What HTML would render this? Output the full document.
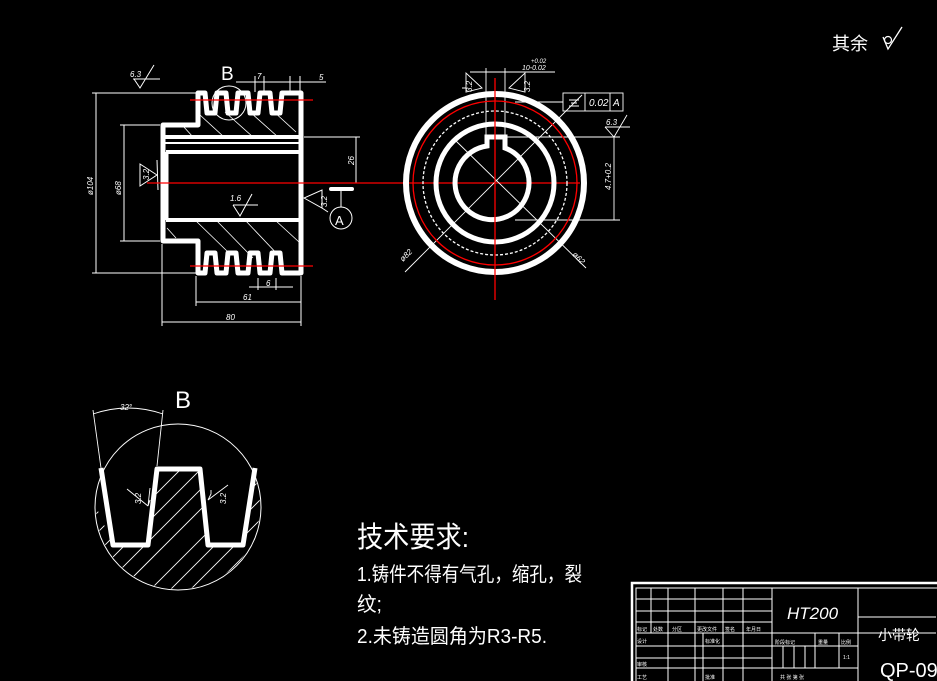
<!DOCTYPE html>
<html><head><meta charset="utf-8"><style>
html,body{margin:0;padding:0;background:#000;}
svg{display:block;}
text{font-family:"Liberation Sans","Noto Sans CJK SC",sans-serif;fill:#fff;}
</style></head><body>
<svg width="937" height="681" viewBox="0 0 937 681" xmlns="http://www.w3.org/2000/svg">
<rect width="937" height="681" fill="#000"/>

<text x="832" y="50" font-size="18" font-family="Noto Sans CJK SC, sans-serif">其余</text>
<path d="M883,37 L888,49 L902,27" stroke="#fff" stroke-width="1.3" fill="none"/>
<circle cx="888" cy="40" r="3.5" stroke="#fff" stroke-width="1.2" fill="none"/>

<g stroke="#fff" fill="none">
 <g stroke-width="0.8">
  <line x1="200" y1="115" x2="224" y2="137"/>
  <line x1="225" y1="112" x2="253" y2="137"/>
  <line x1="250" y1="112" x2="278" y2="137"/>
  <line x1="272" y1="110" x2="296" y2="132"/>
  <line x1="183" y1="126" x2="193" y2="137"/>
  <line x1="167" y1="228" x2="176" y2="238"/>
  <line x1="195" y1="220" x2="228" y2="252"/>
  <line x1="216" y1="220" x2="253" y2="258"/>
  <line x1="245" y1="220" x2="281" y2="258"/>
  <line x1="275" y1="220" x2="299" y2="242"/>
 </g>
 <path stroke-width="5" stroke-linejoin="round" d="M163,241 L163,125 L198,125 L198,93 L205,93 L207,113 L215,113 L217,93 L226,93 L228,113 L236,113 L238,93 L248,93 L250,113 L258,113 L260,93 L270,93 L272,113 L280,113 L282,93 L301,93 L301,273 L282,273 L280,253 L272,253 L270,273 L260,273 L258,253 L250,253 L248,273 L238,273 L236,253 L228,253 L226,273 L217,273 L215,253 L207,253 L205,273 L198,273 L198,241 Z"/>
 <line x1="163" y1="137" x2="301" y2="137" stroke-width="4"/>
 <line x1="163" y1="143" x2="301" y2="143" stroke-width="2"/>
 <line x1="166" y1="152" x2="301" y2="152" stroke-width="4"/>
 <line x1="166" y1="220" x2="301" y2="220" stroke-width="4"/>
 <line x1="167" y1="152" x2="167" y2="220" stroke-width="3"/>
 <circle cx="229" cy="103" r="17" stroke-width="1"/>
 <g stroke-width="1">
  <line x1="92" y1="93" x2="196" y2="93"/>
  <line x1="92" y1="273" x2="196" y2="273"/>
  <line x1="96" y1="93" x2="96" y2="273"/>
  <line x1="120" y1="125" x2="160" y2="125"/>
  <line x1="120" y1="241" x2="160" y2="241"/>
  <line x1="124" y1="125" x2="124" y2="241"/>
  <line x1="304" y1="137" x2="360" y2="137"/>
  <line x1="356" y1="137" x2="356" y2="183"/>
  <line x1="196" y1="276" x2="196" y2="306"/>
  <line x1="162" y1="244" x2="162" y2="326"/>
  <line x1="301" y1="276" x2="301" y2="326"/>
  <line x1="196" y1="302" x2="301" y2="302"/>
  <line x1="162" y1="322" x2="301" y2="322"/>
  <line x1="249" y1="287" x2="293" y2="287"/>
  <line x1="258" y1="278" x2="258" y2="290"/>
  <line x1="276" y1="278" x2="276" y2="290"/>
  <line x1="236" y1="82" x2="326" y2="82"/>
  <line x1="255" y1="76" x2="255" y2="92"/>
  <line x1="264" y1="76" x2="264" y2="92"/>
  <line x1="290" y1="76" x2="290" y2="92"/>
  <line x1="300" y1="76" x2="300" y2="92"/>
  <path d="M133,79 L160,79 M134,79 L140,88 L154,65"/>
  <path d="M157,160 L158,190 M157,175 L140,164 L140,186 Z"/>
  <path d="M233,205 L258,205 M233,205 L240,216 L252,194"/>
  <path d="M304,198 L322,208 L322,190 Z M322,208 L328,212"/>
  <line x1="341" y1="189" x2="341" y2="207"/>
  <circle cx="341" cy="218" r="11"/>
 </g>
 <line x1="331" y1="189" x2="352" y2="189" stroke-width="4" stroke-linecap="round"/>
</g>
<g font-size="8" font-style="italic">
 <text x="130" y="77">6.3</text>
 <text x="230" y="201">1.6</text>
 <text x="257" y="79">7</text>
 <text x="319" y="80">5</text>
 <text x="266" y="286">6</text>
 <text x="243" y="300">61</text>
 <text x="226" y="320">80</text>
 <text transform="translate(93,195) rotate(-90)">ø104</text>
 <text transform="translate(121,195) rotate(-90)">ø68</text>
 <text transform="translate(354,165) rotate(-90)">26</text>
 <text transform="translate(149,180) rotate(-90)">3.2</text>
 <text transform="translate(327,207) rotate(-90)">3.2</text>
</g>
<text x="221" y="80" font-size="19">B</text>
<text x="335" y="225" font-size="13">A</text>

<g stroke="#f00" stroke-width="1.3">
 <line x1="147" y1="183" x2="580" y2="183"/>
 <line x1="190" y1="100" x2="313" y2="100"/>
 <line x1="190" y1="266" x2="313" y2="266"/>
</g>

<g fill="none" stroke="#fff">
 <circle cx="495" cy="183" r="89" stroke-width="6"/>
 <circle cx="495" cy="183" r="72" stroke-width="1.3" stroke-dasharray="3,2"/>
 <circle cx="495" cy="183" r="59" stroke-width="5"/>
 <path stroke-width="5" d="M487,146 L487,137 L505,137 L505,148 A37,37 0 1 1 487,146 Z"/>
 <g stroke-width="0.9">
  <line x1="405" y1="272" x2="582" y2="95"/>
  <line x1="455" y1="140" x2="586" y2="268"/>
  <line x1="486" y1="68" x2="486" y2="135"/>
  <line x1="505" y1="68" x2="505" y2="135"/>
  <line x1="470" y1="72" x2="523" y2="72"/>
  <line x1="505" y1="72" x2="555" y2="72"/>
  <path d="M482,88 L466,73 L466,92 Z M466,88 L462,88"/>
  <path d="M509,88 L525,73 L525,92 Z"/>
  <line x1="515" y1="102" x2="563" y2="102"/>
  <rect x="563" y="93" width="60" height="18"/>
  <line x1="585" y1="93" x2="585" y2="111"/>
  <line x1="610" y1="93" x2="610" y2="111"/>
  <line x1="507" y1="137" x2="620" y2="137"/>
  <line x1="515" y1="220" x2="620" y2="220"/>
  <line x1="614" y1="137" x2="614" y2="220"/>
  <path d="M605,127 L630,127 M605,127 L614,137 L627,115"/>
 </g>
 <g stroke-width="1"><line x1="569" y1="100" x2="579" y2="100"/><line x1="571" y1="103" x2="577" y2="103"/><line x1="569" y1="106" x2="579" y2="106"/></g>
</g>
<circle cx="495" cy="183" r="82" fill="none" stroke="#f00" stroke-width="1.3"/>
<line x1="495" y1="78" x2="495" y2="300" stroke="#f00" stroke-width="1.3"/>
<g font-size="8" font-style="italic">
 <text x="589" y="106" font-size="10">0.02</text>
 <text x="613" y="106" font-size="10">A</text>
 <text x="606" y="125">6.3</text>
 <text x="522" y="70" font-size="7">10-0.02</text>
 <text x="531" y="63" font-size="6">+0.02</text>
 <text transform="translate(472,92) rotate(-90)">3.2</text>
 <text transform="translate(530,92) rotate(-90)">3.2</text>
 <text transform="translate(611,190) rotate(-90)">4.7+0.2</text>
 <text transform="translate(403,262) rotate(-45)">ø82</text>
 <text transform="translate(572,255) rotate(45)">ø62</text>
</g>

<defs>
 <clipPath id="cb"><path d="M80,470 L113,545 L148,545 L157,469 L200,469 L208,545 L243,545 L254,469 L280,469 L280,600 L80,600 Z"/></clipPath>
 <clipPath id="cc"><circle cx="178" cy="507" r="82"/></clipPath>
</defs>
<g clip-path="url(#cc)">
<g clip-path="url(#cb)" stroke="#fff" stroke-width="0.9">
  <line x1="60" y1="530" x2="160" y2="430"/><line x1="60" y1="550" x2="170" y2="440"/>
  <line x1="60" y1="570" x2="190" y2="440"/><line x1="70" y1="580" x2="210" y2="440"/>
  <line x1="90" y1="580" x2="230" y2="440"/><line x1="110" y1="580" x2="250" y2="440"/>
  <line x1="130" y1="580" x2="270" y2="440"/><line x1="150" y1="590" x2="290" y2="450"/>
  <line x1="170" y1="590" x2="290" y2="470"/><line x1="190" y1="590" x2="290" y2="490"/>
  <line x1="210" y1="590" x2="290" y2="510"/><line x1="50" y1="510" x2="150" y2="410"/>
</g>
</g>
<g fill="none" stroke="#fff">
 <circle cx="178" cy="507" r="83" stroke-width="1"/>
 <path stroke-width="5" stroke-linejoin="round" d="M101,468 L113,545 L148,545 L157,469 L200,469 L208,545 L243,545 L255,468"/>
 <g stroke-width="0.9">
  <line x1="93" y1="410" x2="101" y2="468"/>
  <line x1="163" y1="410" x2="157" y2="466"/>
  <path d="M93,414 Q128,402 163,414"/>
  <path d="M127,489 L148,506 M150,500 L148,506 L150,488" />
  <path d="M228,485 L208,500 L211,494 L211,490"/>
 </g>
</g>
<g font-size="8" font-style="italic">
 <text x="120" y="410">32°</text>
 <text transform="translate(141,504) rotate(-90)">3.2</text>
 <text transform="translate(226,504) rotate(-90)">3.2</text>
</g>
<text x="175" y="408" font-size="24">B</text>

<g font-family="Noto Sans CJK SC, sans-serif">
 <text x="357" y="547" font-size="29" textLength="112" lengthAdjust="spacingAndGlyphs">技术要求:</text>
 <text x="357" y="581" font-size="20" textLength="225" lengthAdjust="spacingAndGlyphs">1.铸件不得有气孔，缩孔，裂</text>
 <text x="357" y="611" font-size="20" textLength="25" lengthAdjust="spacingAndGlyphs">纹;</text>
 <text x="357" y="643" font-size="20" textLength="190" lengthAdjust="spacingAndGlyphs">2.未铸造圆角为R3-R5.</text>
</g>

<g stroke="#fff" fill="none" stroke-width="1">
 <rect x="632" y="583" width="310" height="110" stroke-width="2.5"/>
 <rect x="636" y="588" width="305" height="100"/>
 <line x1="772" y1="588" x2="772" y2="681"/>
 <line x1="858" y1="588" x2="858" y2="681"/>
 <line x1="636" y1="599" x2="772" y2="599"/>
 <line x1="636" y1="611" x2="772" y2="611"/>
 <line x1="636" y1="622" x2="772" y2="622"/>
 <line x1="636" y1="633" x2="936" y2="633"/>
 <line x1="636" y1="646" x2="858" y2="646"/>
 <line x1="636" y1="658" x2="772" y2="658"/>
 <line x1="636" y1="668" x2="858" y2="668"/>
 <line x1="858" y1="617" x2="936" y2="617"/>
 <line x1="651" y1="588" x2="651" y2="633"/>
 <line x1="668" y1="588" x2="668" y2="681"/>
 <line x1="695" y1="588" x2="695" y2="681"/>
 <line x1="703" y1="633" x2="703" y2="681"/>
 <line x1="723" y1="588" x2="723" y2="681"/>
 <line x1="743" y1="588" x2="743" y2="681"/>
 <line x1="815" y1="633" x2="815" y2="668"/>
 <line x1="839" y1="633" x2="839" y2="668"/>
 <line x1="783" y1="646" x2="783" y2="668"/>
 <line x1="794" y1="646" x2="794" y2="668"/>
 <line x1="805" y1="646" x2="805" y2="668"/>
</g>
<g font-size="5" font-family="Noto Sans CJK SC, sans-serif">
 <text x="637" y="631">标记</text><text x="653" y="631">处数</text><text x="672" y="631">分区</text><text x="697" y="631">更改文件</text><text x="725" y="631">签名</text><text x="746" y="631">年月日</text>
 <text x="637" y="643">设计</text><text x="705" y="643">标准化</text>
 <text x="637" y="666">审核</text><text x="637" y="679">工艺</text><text x="705" y="679">批准</text>
 <text x="775" y="644">阶段标记</text><text x="818" y="644">重量</text><text x="841" y="644">比例</text><text x="843" y="659">1:1</text>
 <text x="780" y="679">共 张 第 张</text>
</g>
<text x="787" y="619" font-size="17" font-style="italic" font-family="Liberation Sans, sans-serif">HT200</text>
<text x="878" y="640" font-size="14" font-family="Noto Sans CJK SC, sans-serif">小带轮</text>
<text x="880" y="677" font-size="20" font-family="Liberation Sans, sans-serif">QP-09</text>
</svg>
</body></html>
